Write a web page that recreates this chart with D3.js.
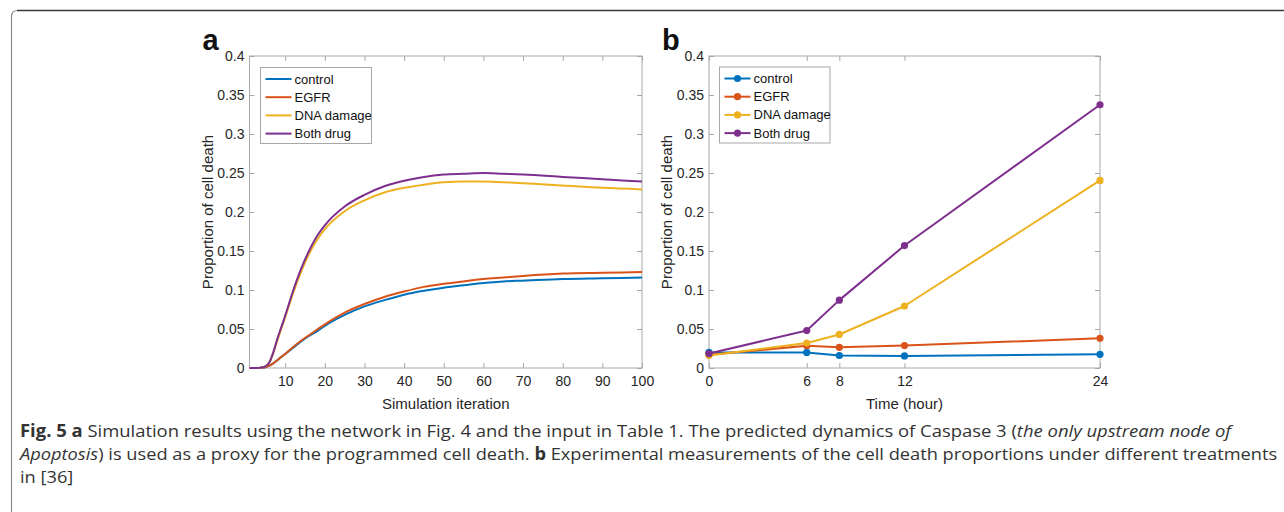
<!DOCTYPE html>
<html>
<head>
<meta charset="utf-8">
<script src="https://cdn.jsdelivr.net/npm/d3@7"></script>
<style>
  body { margin: 0; background: #fff; }
  svg { display: block; }
  .tick text { font-family: "Liberation Sans", Arial, sans-serif; font-size: 14px; fill: #262626; }
  .tick line { stroke: #a8a8a8; }
</style>
</head>
<body>
<svg id="fig" width="1284" height="512"></svg>
<script>
// series names and colours (MATLAB default order)
const seriesNames = ["control", "EGFR", "DNA damage", "Both drug"];
const seriesColors = ["#0072BD", "#D95319", "#EDB120", "#7E2F8E"];

// panel a: simulation iterations
const iterX = [1, 2, 3, 4, 5, 6, 7, 8, 9, 10, 12, 14, 16, 18, 20, 25, 30, 35, 40, 45, 50, 55, 60, 65, 70, 80, 90, 100];
const simControl = [0, 0, 0, 0.0005, 0.001, 0.003, 0.006, 0.010, 0.014, 0.018, 0.026, 0.034, 0.041, 0.047, 0.054, 0.068, 0.079, 0.087, 0.094, 0.099, 0.103, 0.106, 0.109, 0.111, 0.112, 0.114, 0.115, 0.116];
const simEGFR = [0, 0, 0, 0.0005, 0.001, 0.003, 0.006, 0.010, 0.014, 0.018, 0.027, 0.035, 0.042, 0.049, 0.056, 0.071, 0.082, 0.091, 0.098, 0.104, 0.108, 0.111, 0.114, 0.116, 0.118, 0.121, 0.122, 0.123];
const simDNA = [0, 0, 0, 0.0005, 0.002, 0.007, 0.019, 0.035, 0.050, 0.065, 0.096, 0.123, 0.146, 0.164, 0.178, 0.201, 0.215, 0.225, 0.231, 0.235, 0.238, 0.239, 0.239, 0.238, 0.237, 0.234, 0.231, 0.229];
const simBoth = [0, 0, 0, 0.0005, 0.002, 0.007, 0.020, 0.037, 0.052, 0.067, 0.099, 0.127, 0.150, 0.169, 0.183, 0.207, 0.222, 0.233, 0.240, 0.245, 0.248, 0.249, 0.250, 0.249, 0.248, 0.245, 0.242, 0.239];

// panel b: measured time points (hours)
const hours = [0, 6, 8, 12, 24];
const expControl = [0.020, 0.020, 0.016, 0.0155, 0.0175];
const expEGFR = [0.017, 0.0285, 0.0265, 0.0288, 0.038];
const expDNA = [0.016, 0.032, 0.043, 0.0795, 0.2405];
const expBoth = [0.0185, 0.048, 0.087, 0.157, 0.3375];

// tick values
const yTicks = [0, 0.05, 0.1, 0.15, 0.2, 0.25, 0.3, 0.35, 0.4];
const iterTicks = [10, 20, 30, 40, 50, 60, 70, 80, 90, 100];
const hourTicks = [0, 6, 8, 12, 24];

const svg = d3.select("#fig");
svg.append("rect").attr("width", 1284).attr("height", 512).attr("fill", "#fff");

// page frame (rounded top-left corner)
svg.append("path")
  .attr("d", "M11.5,512 L11.5,16.5 Q11.5,10.5 17.5,10.5 L1284,10.5")
  .attr("fill", "none").attr("stroke", "#8a8a8a").attr("stroke-width", 1.2);
svg.append("line").attr("x1", 17).attr("x2", 1284).attr("y1", 10.5).attr("y2", 10.5)
  .attr("stroke", "#3a3a3a").attr("stroke-width", 1.5);

const fmtY = d => d === 0 ? "0" : String(+d.toFixed(2));

function drawPanel(cfg) {
  const w = cfg.right - cfg.left, h = cfg.bottom - cfg.top;
  const g = svg.append("g").attr("transform", `translate(${cfg.left},${cfg.top})`);
  const x = d3.scaleLinear().domain(cfg.xDomain).range([0, w]);
  const y = d3.scaleLinear().domain([0, 0.4]).range([h, 0]);

  g.append("rect").attr("width", w).attr("height", h).attr("fill", "#fff");

  // inward ticks on all four sides
  const ax = [
    g.append("g").attr("transform", `translate(0,${h})`)
      .call(d3.axisBottom(x).tickValues(cfg.xTicks).tickSizeInner(-5).tickSizeOuter(0).tickPadding(8)),
    g.append("g")
      .call(d3.axisTop(x).tickValues(cfg.xTicks).tickSizeInner(-5).tickSizeOuter(0).tickFormat("")),
    g.append("g")
      .call(d3.axisLeft(y).tickValues(yTicks).tickFormat(fmtY).tickSizeInner(-5).tickSizeOuter(0).tickPadding(5)),
    g.append("g").attr("transform", `translate(${w},0)`)
      .call(d3.axisRight(y).tickValues(yTicks).tickSizeInner(-5).tickSizeOuter(0).tickFormat(""))
  ];
  ax.forEach(a => a.select(".domain").remove());
  ax[0].selectAll("text").attr("dy", "0.71em");

  g.append("rect").attr("width", w).attr("height", h)
    .attr("fill", "none").attr("stroke", "#a8a8a8").attr("stroke-width", 1);

  const line = d3.line().x(d => x(d[0])).y(d => y(d[1]));
  if (cfg.smooth) line.curve(d3.curveMonotoneX);

  cfg.series.forEach((vals, i) => {
    const pts = cfg.xs.map((xv, j) => [xv, vals[j]]);
    g.append("path").datum(pts).attr("d", line)
      .attr("fill", "none").attr("stroke", seriesColors[i]).attr("stroke-width", 2)
      .attr("stroke-linejoin", "round");
    if (cfg.markers) {
      g.selectAll(null).data(pts).enter().append("circle")
        .attr("cx", d => x(d[0])).attr("cy", d => y(d[1])).attr("r", 3.6)
        .attr("fill", seriesColors[i]);
    }
  });

  // axis titles
  svg.append("text")
    .attr("x", cfg.left + w / 2).attr("y", cfg.bottom + 41)
    .attr("text-anchor", "middle")
    .style("font-family", "Liberation Sans, Arial, sans-serif").style("font-size", "15px").style("fill", "#262626")
    .text(cfg.xLabel);
  svg.append("text")
    .attr("transform", `translate(${cfg.left - 37},${cfg.top + h / 2}) rotate(-90)`)
    .attr("text-anchor", "middle")
    .style("font-family", "Liberation Sans, Arial, sans-serif").style("font-size", "15px").style("fill", "#262626")
    .text("Proportion of cell death");

  // panel letter
  svg.append("text")
    .attr("x", cfg.left - 47).attr("y", cfg.top - 6)
    .style("font-family", "Liberation Sans, Arial, sans-serif").style("font-size", "29px")
    .style("font-weight", "bold").style("fill", "#111")
    .text(cfg.letter);

  // legend
  const lg = g.append("g").attr("transform", `translate(${cfg.legX},${cfg.legY})`);
  lg.append("rect").attr("width", cfg.legW).attr("height", 76)
    .attr("fill", "#fff").attr("stroke", "#a8a8a8").attr("stroke-width", 1);
  seriesNames.forEach((name, i) => {
    const yy = 11.5 + i * 18.2;
    lg.append("line").attr("x1", 5).attr("x2", 31).attr("y1", yy).attr("y2", yy)
      .attr("stroke", seriesColors[i]).attr("stroke-width", 2);
    if (cfg.markers) {
      lg.append("circle").attr("cx", 18).attr("cy", yy).attr("r", 3.6).attr("fill", seriesColors[i]);
    }
    lg.append("text").attr("x", 34).attr("y", yy).attr("dy", "0.35em")
      .style("font-family", "Liberation Sans, Arial, sans-serif").style("font-size", "13px").style("fill", "#111")
      .text(name);
  });
}

drawPanel({
  letter: "a", left: 249.5, right: 642, top: 56, bottom: 368,
  xDomain: [1, 100], xTicks: iterTicks, xs: iterX,
  series: [simControl, simEGFR, simDNA, simBoth],
  smooth: true, markers: false, xLabel: "Simulation iteration",
  legX: 11, legY: 11.5, legW: 111
});

drawPanel({
  letter: "b", left: 709, right: 1100, top: 56, bottom: 368,
  xDomain: [0, 24], xTicks: hourTicks, xs: hours,
  series: [expControl, expEGFR, expDNA, expBoth],
  smooth: false, markers: true, xLabel: "Time (hour)",
  legX: 10.5, legY: 11, legW: 110.5
});

// caption
const capFont = "'Open Sans', 'Noto Sans', sans-serif";
const caption = [
  { y: 437, width: 1212, parts: [
    ["Fig. 5 a", "bold", "normal"],
    [" Simulation results using the network in Fig. 4 and the input in Table 1. The predicted dynamics of Caspase 3 (", "normal", "normal"],
    ["the only upstream node of", "normal", "italic"]
  ]},
  { y: 460, width: 1258, parts: [
    ["Apoptosis", "normal", "italic"],
    [") is used as a proxy for the programmed cell death. ", "normal", "normal"],
    ["b", "bold", "normal"],
    [" Experimental measurements of the cell death proportions under different treatments", "normal", "normal"]
  ]},
  { y: 483, width: null, parts: [["in [36]", "normal", "normal"]] }
];
const capX = 20;
let lastScale = 1;
caption.forEach(row => {
  const t = svg.append("text").attr("x", capX).attr("y", row.y)
    .style("font-family", capFont).style("font-size", "17px").style("fill", "#333");
  row.parts.forEach(p => {
    t.append("tspan").style("font-weight", p[1]).style("font-style", p[2]).text(p[0]);
  });
  const natural = t.node().getComputedTextLength();
  const s = row.width ? row.width / natural : lastScale;
  lastScale = s;
  t.attr("transform", `translate(${capX},0) scale(${s},1) translate(${-capX},0)`);
});
</script>
</body>
</html>
